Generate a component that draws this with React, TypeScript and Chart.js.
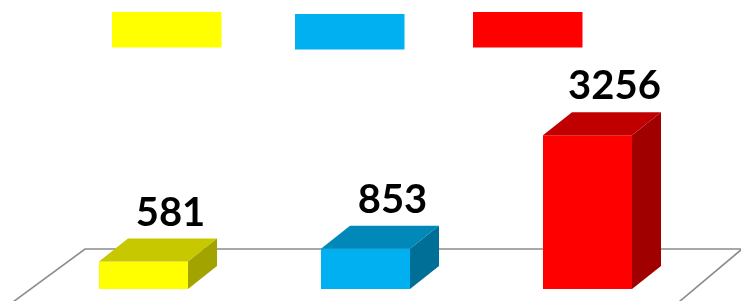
import React, { useEffect, useRef } from "react";
import { Chart, registerables } from "chart.js";

Chart.register(...registerables);

const categories = ["Series A", "Series B", "Series C"];
const values = [581, 853, 3256];
const frontColors = ["#FFFF00", "#00B0F0", "#FF0000"];
const topColors = ["#C8C800", "#0088B8", "#C00000"];
const sideColors = ["#A3A300", "#006F98", "#A00000"];

const DEPTH_X = 29;
const DEPTH_Y = 23;

const bar3dPlugin = {
  id: "bar3d",
  beforeDatasetsDraw(chart: any) {
    const { ctx, chartArea, scales } = chart;
    const baseY = scales.y.getPixelForValue(0);
    const backY = baseY - 40;
    const leftX = chartArea.left + 52.5;
    const rightX = chartArea.right + 43.5;
    ctx.save();
    ctx.strokeStyle = "#8C8C8C";
    ctx.lineWidth = 1.6;
    ctx.beginPath();
    ctx.moveTo(leftX - 61 * 1.359, backY + 61);
    ctx.lineTo(leftX, backY);
    ctx.lineTo(rightX, backY);
    ctx.lineTo(rightX - 61 * 1.19, backY + 61);
    ctx.stroke();
    ctx.restore();
  },
  afterDatasetsDraw(chart: any) {
    const { ctx } = chart;
    const meta = chart.getDatasetMeta(0);
    ctx.save();
    meta.data.forEach((el: any, i: number) => {
      const { x, y, base, width } = el.getProps(["x", "y", "base", "width"], true);
      const l = x - width / 2;
      const r = x + width / 2;
      // top face
      ctx.fillStyle = topColors[i];
      ctx.beginPath();
      ctx.moveTo(l, y);
      ctx.lineTo(l + DEPTH_X, y - DEPTH_Y);
      ctx.lineTo(r + DEPTH_X, y - DEPTH_Y);
      ctx.lineTo(r, y);
      ctx.closePath();
      ctx.fill();
      // side face
      ctx.fillStyle = sideColors[i];
      ctx.beginPath();
      ctx.moveTo(r, y);
      ctx.lineTo(r + DEPTH_X, y - DEPTH_Y);
      ctx.lineTo(r + DEPTH_X, base - DEPTH_Y);
      ctx.lineTo(r, base);
      ctx.closePath();
      ctx.fill();
      // label
      ctx.fillStyle = "#000000";
      ctx.font = "bold 40px Lato";
      ctx.textAlign = "center";
      ctx.textBaseline = "alphabetic";
      ctx.fillText(String(values[i]), x + 27, y - DEPTH_Y - 13);
    });
    ctx.restore();
  },
  afterDraw(chart: any) {
    const { ctx } = chart;
    const meta = chart.getDatasetMeta(0);
    ctx.save();
    const legendOffsets = [12, 14, 12];
    meta.data.forEach((el: any, i: number) => {
      const { x } = el.getProps(["x"], true);
      ctx.fillStyle = frontColors[i];
      const lx = [112, 295, 473][i];
      ctx.fillRect(lx + (x - x), legendOffsets[i], 109.5, 35.5);
    });
    ctx.restore();
  },
};

export default function App() {
  const ref = useRef<HTMLCanvasElement | null>(null);
  useEffect(() => {
    if (!ref.current) return;
    const chart = new Chart(ref.current, {
      type: "bar",
      data: {
        labels: categories,
        datasets: [
          {
            data: values,
            backgroundColor: frontColors,
            borderWidth: 0,
            barPercentage: 0.401,
            categoryPercentage: 1,
          },
        ],
      },
      options: {
        responsive: false,
        animation: false,
        devicePixelRatio: 1,
        layout: { padding: { left: 32.5, right: 42.5, top: 100, bottom: 12 } },
        plugins: { legend: { display: false }, tooltip: { enabled: false } },
        scales: {
          x: { display: false },
          y: { display: false, min: 0, max: 4000 },
        },
      },
      plugins: [bar3dPlugin],
    });
    return () => chart.destroy();
  }, []);
  return (
    <div style={{ position: "fixed", left: 0, top: 0, width: 741, height: 301, background: "#fff" }}>
      <canvas ref={ref} width={741} height={301} style={{ width: 741, height: 301 }} />
    </div>
  );
}
